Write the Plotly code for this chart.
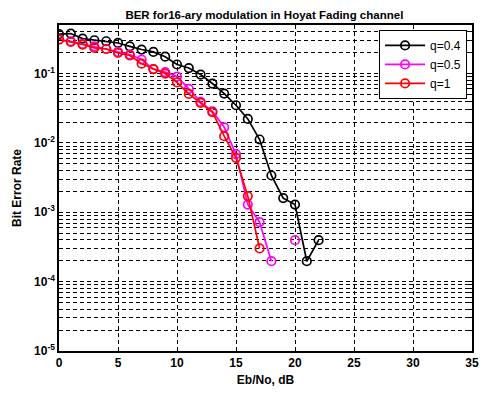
import plotly.graph_objects as go

# Eb/No in dB
ebno = list(range(0, 23))

# BER (None = no errors counted, so no point on log scale)
ber_q04 = [0.37, 0.377, 0.319, 0.302, 0.292, 0.276, 0.247, 0.222, 0.205, 0.175,
           0.135, 0.120, 0.0968, 0.0718, 0.0515, 0.0349, 0.0222, 0.0112, 0.00339,
           0.00160, 0.00129, 0.000197, 0.000396]
ber_q05 = [0.31, 0.292, 0.267, 0.247, 0.226, 0.205, 0.188, 0.159, 0.116, 0.105,
           0.0905, 0.060, 0.039, 0.0286, 0.0168, 0.00687, 0.00129, 0.00072,
           0.000197, None, 0.000396]
ber_q1 = [0.309, 0.285, 0.262, 0.234, 0.226, 0.198, 0.182, 0.139, 0.116, 0.100,
          0.0745, 0.0508, 0.0377, 0.0277, 0.0125, 0.00610, 0.00171, 0.000301]

series = [
    ("q=0.4", ber_q04, "black"),
    ("q=0.5", ber_q05, "#ff00ff"),
    ("q=1", ber_q1, "#ff0000"),
]

x_ticks = [0, 5, 10, 15, 20, 25, 30, 35]
decades = [-5, -4, -3, -2, -1]

# y tick positions: every 1..9 x 10^k so the grid shows the log subdivisions
y_vals = []
y_text = []
for d in decades:
    for m in range(1, 10):
        y_vals.append(m * 10 ** d)
        y_text.append("10<sup>%d</sup>" % d if m == 1 else "")

fig = go.Figure()

for name, ber, col in series:
    fig.add_trace(go.Scatter(
        x=ebno[:len(ber)], y=ber, name=name, mode="lines+markers",
        line=dict(color=col, width=1.7),
        marker=dict(symbol="circle-open", size=8.5, color=col, line=dict(width=1.7)),
        connectgaps=False,
    ))

bold = dict(family="Liberation Sans", size=12, color="black")

# page body adds ~7px offset, so margins are shifted to compensate
fig.update_layout(
    width=493, height=419,
    margin=dict(l=51, r=29, t=17, b=76),
    paper_bgcolor="white", plot_bgcolor="white",
    title=dict(text="<b>BER for16-ary modulation in Hoyat Fading channel</b>",
               x=0.52, xanchor="center", y=0.993, yanchor="top",
               font=dict(family="Liberation Sans", size=11.5, color="black"),
               automargin=False),
    font=dict(family="Liberation Sans", color="black"),
    legend=dict(x=0.775, y=0.985, xanchor="left", yanchor="top",
                bgcolor="white", bordercolor="black", borderwidth=1,
                font=dict(family="Liberation Sans", size=12, color="black"),
                itemwidth=40, tracegroupgap=0),
)

fig.update_xaxes(
    range=[0, 35], tickvals=x_ticks, automargin=False,
    ticktext=["<b>%d</b>" % v for v in x_ticks], tickfont=bold,
    title=dict(text="<b>Eb/No, dB</b>", font=bold, standoff=6),
    showline=True, linecolor="black", linewidth=1.5, mirror="ticks",
    ticks="inside", ticklen=4, tickcolor="black",
    showgrid=True, gridcolor="black", gridwidth=1, griddash="4px,3px",
    zeroline=False,
)

fig.update_yaxes(
    type="log", range=[-5, -0.3], tickvals=y_vals, automargin=False,
    ticktext=["<b>%s</b>" % t if t else "" for t in y_text], tickfont=bold,
    title=dict(text="<b>Bit Error Rate</b>", font=bold, standoff=10),
    showline=True, linecolor="black", linewidth=1.5, mirror="ticks",
    ticks="inside", ticklen=3, tickcolor="black",
    showgrid=True, gridcolor="black", gridwidth=1, griddash="4px,3px",
    zeroline=False,
)

fig.write_html("out.html")
